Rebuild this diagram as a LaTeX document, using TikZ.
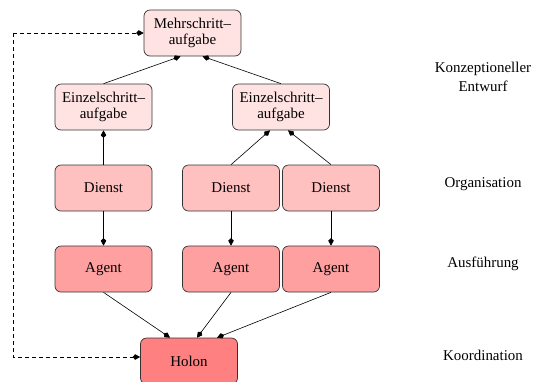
\documentclass[tikz,border=0pt]{standalone}
\usepackage{fontspec}
\setmainfont{Liberation Serif}
\usetikzlibrary{arrows.meta}
\definecolor{taskfill}{HTML}{FFE2E2}
\definecolor{servfill}{HTML}{FFC0C0}
\definecolor{agentfill}{HTML}{FFA0A0}
\definecolor{holonfill}{HTML}{FF8080}
\definecolor{edgegray}{HTML}{333333}
\begin{document}
\begin{tikzpicture}[x=1bp,y=-1bp,
  box/.style={draw=edgegray, line width=0.7pt, rounded corners=6bp,
    minimum width=97bp, minimum height=46bp, inner sep=0pt, align=center,
    font=\fontsize{15}{16.5}\selectfont},
  lvl/.style={align=center, font=\fontsize{15}{18.5}\selectfont},
  link/.style={-{Kite[length=7.5bp,width=5.5bp,inset=2.5bp]}, line width=0.6pt},
  feedback/.style={link, dashed, dash pattern=on 4bp off 3bp}]
\useasboundingbox (0,0) rectangle (533,381);
\clip (0,0) rectangle (533,381);

% task layer
\node[box, fill=taskfill] (m)  at (192.5,33)  {Mehrschritt--\\aufgabe};
\node[box, fill=taskfill] (e1) at (103.5,107) {Einzelschritt--\\aufgabe};
\node[box, fill=taskfill] (e2) at (281,107)   {Einzelschritt--\\aufgabe};

% service layer
\node[box, fill=servfill] (d1) at (103.5,188) {Dienst};
\node[box, fill=servfill] (d2) at (231,188)   {Dienst};
\node[box, fill=servfill] (d3) at (331,188)   {Dienst};

% agent layer
\node[box, fill=agentfill] (a1) at (103.5,269) {Agent};
\node[box, fill=agentfill] (a2) at (231,269)   {Agent};
\node[box, fill=agentfill] (a3) at (331,269)   {Agent};

% holon
\node[box, fill=holonfill] (h) at (189,361) {Holon};

% layer captions
\node[lvl] (l1) at (483,77)  {Konzeptioneller\\Entwurf};
\node[lvl] (l2) at (483,184) {Organisation};
\node[lvl] (l3) at (483,264) {Ausführung};
\node[lvl] (l4) at (483,355) {Koordination};

% tasks
\draw[link] (e1.north) -- ([xshift=-12bp]m.south);
\draw[link] (e2.north) -- ([xshift=10bp]m.south);
\draw[link] (d1.north) -- (e1.south);
\draw[link] (d2.north) -- ([xshift=-11bp]e2.south);
\draw[link] (d3.north) -- ([xshift=7bp]e2.south);

% services to agents
\draw[link] (d1.south) -- (a1.north);
\draw[link] (d2.south) -- (a2.north);
\draw[link] (d3.south) -- (a3.north);

% agents to holon
\draw[link] (a1.south) -- ([xshift=-19bp]h.north);
\draw[link] (a2.south) -- ([xshift=8bp]h.north);
\draw[link] (a3.south) -- ([xshift=28bp]h.north);

% feedback loop
\coordinate (fb1) at (13,33);
\coordinate (fb2) at (13,357);
\draw[feedback] (fb1) -- (m.west);
\draw[feedback] (fb1) -- (fb2) -- (h.west |- fb2);
\end{tikzpicture}
\end{document}
